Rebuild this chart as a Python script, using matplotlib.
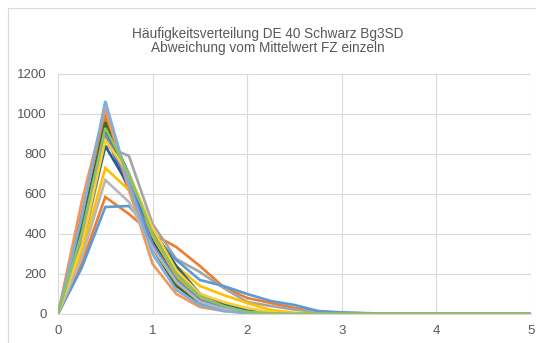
import matplotlib
matplotlib.use("Agg")
import matplotlib.pyplot as plt
from matplotlib.patches import Rectangle

x_values = [i * 0.25 for i in range(21)]

series_values = [
    [0, 420, 900, 620, 370, 190, 75, 35, 12, 4, 2, 1, 0, 0, 0, 0, 0, 0, 0, 0, 0],
    [0, 250, 585, 500, 400, 335, 240, 135, 80, 55, 30, 12, 6, 4, 2, 1, 1, 0, 0, 0, 0],
    [0, 320, 840, 790, 450, 275, 210, 130, 60, 40, 22, 10, 5, 3, 2, 1, 0, 0, 0, 0, 0],
    [0, 300, 730, 620, 420, 240, 140, 95, 55, 20, 6, 3, 1, 0, 0, 0, 0, 0, 0, 0, 0],
    [0, 230, 535, 540, 400, 270, 170, 140, 100, 65, 45, 15, 8, 4, 2, 1, 1, 0, 0, 0, 0],
    [0, 380, 990, 680, 380, 200, 100, 55, 20, 6, 2, 0, 0, 0, 0, 0, 0, 0, 0, 0, 0],
    [0, 450, 950, 700, 400, 220, 90, 40, 15, 5, 2, 0, 0, 0, 0, 0, 0, 0, 0, 0, 0],
    [0, 500, 1005, 650, 330, 150, 60, 25, 8, 3, 0, 0, 0, 0, 0, 0, 0, 0, 0, 0, 0],
    [0, 400, 920, 660, 360, 170, 70, 30, 10, 3, 0, 0, 0, 0, 0, 0, 0, 0, 0, 0, 0],
    [0, 380, 880, 680, 390, 190, 80, 35, 12, 4, 0, 0, 0, 0, 0, 0, 0, 0, 0, 0, 0],
    [0, 360, 840, 640, 420, 240, 100, 45, 15, 5, 0, 0, 0, 0, 0, 0, 0, 0, 0, 0, 0],
    [0, 420, 960, 650, 330, 140, 55, 25, 8, 3, 0, 0, 0, 0, 0, 0, 0, 0, 0, 0, 0],
    [0, 380, 900, 660, 350, 170, 70, 30, 10, 2, 0, 0, 0, 0, 0, 0, 0, 0, 0, 0, 0],
    [0, 560, 1030, 620, 250, 100, 35, 15, 5, 2, 0, 0, 0, 0, 0, 0, 0, 0, 0, 0, 0],
    [0, 280, 670, 560, 330, 160, 60, 25, 10, 3, 0, 0, 0, 0, 0, 0, 0, 0, 0, 0, 0],
    [0, 340, 870, 700, 430, 220, 100, 60, 30, 10, 3, 0, 0, 0, 0, 0, 0, 0, 0, 0, 0],
    [0, 480, 1065, 650, 300, 120, 45, 15, 5, 2, 0, 0, 0, 0, 0, 0, 0, 0, 0, 0, 0],
    [0, 400, 930, 700, 400, 200, 90, 40, 10, 3, 0, 0, 0, 0, 0, 0, 0, 0, 0, 0, 0],
]

series_colors = [
    "#4472C4", "#ED7D31", "#A5A5A5", "#FFC000", "#5B9BD5", "#70AD47",
    "#264478", "#ED7D31", "#1F2A44", "#E6B800", "#255E91", "#43682B",
    "#698ED0", "#F1975A", "#B7B7B7", "#FFCD33", "#7CAFDD", "#8CC168",
]

title_lines = ["Häufigkeitsverteilung DE 40 Schwarz Bg3SD", "Abweichung vom Mittelwert FZ einzeln"]
y_ticks = [0, 200, 400, 600, 800, 1000, 1200]
x_ticks = [0, 1, 2, 3, 4, 5]

plt.rcParams['font.family'] = ['Liberation Sans', 'DejaVu Sans']
text_color = "#595959"
grid_color = "#D9D9D9"

fig = plt.figure(figsize=(5.36, 3.43), dpi=100)
fig.patches.append(Rectangle((8/536, -0.1), 1.2, 1.1 - 8/343, transform=fig.transFigure,
                             fill=False, edgecolor="#D9D9D9", linewidth=0.8))
ax = fig.add_axes([58/536, 29/343, (531-58)/536, (314-74)/343])

for vals, col in zip(series_values, series_colors):
    ax.plot(x_values, vals, color=col, linewidth=1.9, solid_joinstyle='miter')

ax.set_xlim(0, 5)
ax.set_ylim(0, 1200)
ax.set_xticks(x_ticks)
ax.set_yticks(y_ticks)
ax.set_xticklabels([str(t) for t in x_ticks])
ax.set_yticklabels([str(t) for t in y_ticks])
ax.tick_params(length=0, labelsize=9.5, colors=text_color, pad=8)
ax.grid(True, color=grid_color, linewidth=0.8)
ax.set_axisbelow(True)
for s in ["top", "right", "left"]:
    ax.spines[s].set_visible(False)
ax.spines["bottom"].set_color(grid_color)

fig.text(0.5, 1 - 34/343, title_lines[0], ha='center', va='center', fontsize=9.8, color=text_color)
fig.text(0.5, 1 - 48/343, title_lines[1], ha='center', va='center', fontsize=9.8, color=text_color)

fig.savefig("out.png", dpi=100)
